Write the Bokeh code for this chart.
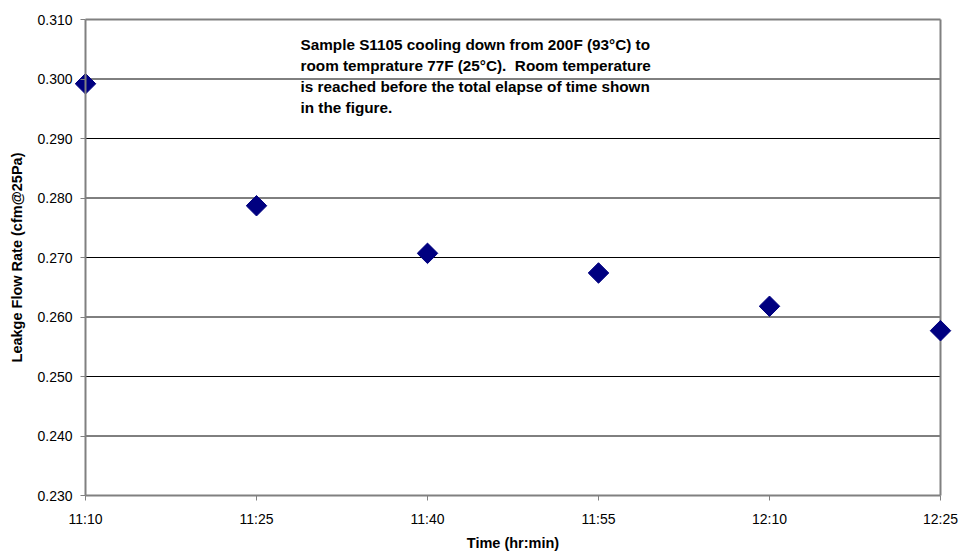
from bokeh.plotting import figure
from bokeh.models import FixedTicker, Label, Range1d
from bokeh.embed import file_html
from bokeh.resources import INLINE
import math

# Data
time_labels = ["11:10", "11:25", "11:40", "11:55", "12:10", "12:25"]
leakage = [0.2992, 0.2787, 0.2707, 0.2674, 0.2618, 0.2577]
y_ticks = [0.230, 0.240, 0.250, 0.260, 0.270, 0.280, 0.290, 0.300, 0.310]
note_lines = [
    "Sample S1105 cooling down from 200F (93\u00b0C) to",
    "room temprature 77F (25\u00b0C). \u00a0Room temperature",
    "is reached before the total elapse of time shown",
    "in the figure.",
]
x_title = "Time (hr:min)"
y_title = "Leakge Flow Rate (cfm@25Pa)"

def to_min(s):
    h, m = s.split(":")
    return int(h) * 60 + int(m)

x_vals = [to_min(t) for t in time_labels]

FONT = "Liberation Sans"
GREY = "#808080"

# layout (pixels)
W, H = 961, 552
LEFT, RIGHT, TOP, BOTTOM = 85, 940, 19, 495   # plot-area box
xs = (x_vals[-1] - x_vals[0]) / (RIGHT - LEFT)   # data per px
ys = (y_ticks[-1] - y_ticks[0]) / (BOTTOM - TOP)

# the frame covers the whole canvas so nothing (edge markers, labels) is clipped
p = figure(width=W, height=H, output_backend="svg", toolbar_location=None,
           x_range=Range1d(x_vals[0] - LEFT * xs, x_vals[-1] + (W - RIGHT) * xs),
           y_range=Range1d(y_ticks[0] - (H - BOTTOM) * ys, y_ticks[-1] + TOP * ys),
           min_border=0)

p.background_fill_color = "white"
p.border_fill_color = "white"
p.outline_line_color = None
p.xgrid.grid_line_color = None
p.ygrid.grid_line_color = None

x0, x1 = x_vals[0], x_vals[-1]
y0, y1 = y_ticks[0], y_ticks[-1]

# horizontal gridlines (interior)
inner = y_ticks[1:-1]
p.segment(x0=[x0] * len(inner), x1=[x1] * len(inner), y0=inner, y1=inner,
          line_color="black", line_width=1)

# plot-area border
p.segment(x0=[x0, x1], x1=[x1, x1], y0=[y1, y0], y1=[y1, y1],
          line_color=GREY, line_width=2)

p.scatter(x_vals, leakage, marker="square", size=14.5, angle=math.pi / 4,
          fill_color="#000080", line_color="#000080")

# axes, pinned to the plot-area edges
p.xaxis.ticker = FixedTicker(ticks=x_vals)
p.xaxis.major_label_overrides = {x: t for x, t in zip(x_vals, time_labels)}
p.xaxis.fixed_location = y0
p.xaxis.bounds = (x0, x1)
p.yaxis.ticker = FixedTicker(ticks=y_ticks)
p.yaxis.major_label_overrides = {v: f"{v:.3f}" for v in y_ticks}
p.yaxis.fixed_location = x0
p.yaxis.bounds = (y0, y1)

for ax in (p.xaxis[0], p.yaxis[0]):
    ax.axis_line_color = GREY
    ax.axis_line_width = 2
    ax.major_tick_line_color = GREY
    ax.major_tick_line_width = 1
    ax.major_tick_in = 0
    ax.major_tick_out = 5
    ax.minor_tick_line_color = None
    ax.major_label_text_font = FONT
    ax.major_label_text_font_size = "14px"
    ax.major_label_text_color = "black"

p.xaxis.major_label_standoff = 10
p.yaxis.major_label_standoff = 8

# axis titles
p.add_layout(Label(x=(LEFT + RIGHT) / 2, y=H - 542, x_units="screen", y_units="screen",
                   text=x_title, text_align="center", text_baseline="middle",
                   text_font=FONT, text_font_size="14.5px", text_font_style="bold",
                   text_color="black"))
p.add_layout(Label(x=16, y=H - (TOP + BOTTOM) / 2, x_units="screen", y_units="screen",
                   text=y_title, angle=math.pi / 2, text_align="center", text_baseline="middle",
                   text_font=FONT, text_font_size="14.5px", text_font_style="bold",
                   text_color="black"))

for i, line in enumerate(note_lines):
    p.add_layout(Label(x=300, y=H - 44 - 21 * i,
                       x_units="screen", y_units="screen",
                       text=line, text_font=FONT, text_font_size="15.3px",
                       text_font_style="bold", text_baseline="middle", text_color="black"))

open("out.html", "w").write(file_html(p, INLINE))
